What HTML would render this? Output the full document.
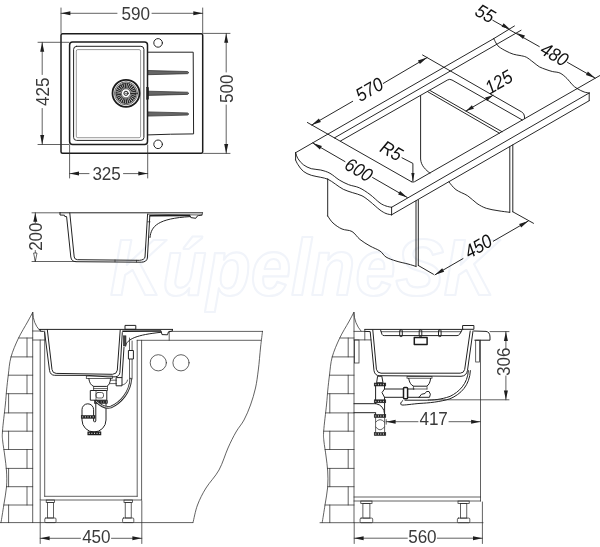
<!DOCTYPE html>
<html><head><meta charset="utf-8"><title>Sink drawing</title>
<style>
html,body{margin:0;padding:0;background:#fff;}
body{width:600px;height:547px;overflow:hidden;font-family:"Liberation Sans",sans-serif;}
svg{display:block}
.k{fill:none;stroke:#1c1c1c;stroke-width:1.5;stroke-linejoin:round}
.m{fill:none;stroke:#222;stroke-width:1.0;stroke-linejoin:round;stroke-linecap:round}
.t{fill:none;stroke:#2e2e2e;stroke-width:0.75;stroke-linecap:round}
.i{fill:none;stroke:#141414;stroke-width:0.92;stroke-linecap:round}
.t2{fill:none;stroke:#555;stroke-width:0.6}
.g{fill:#666;stroke:#2a2a2a;stroke-width:0.7}
.f{fill:#1e1e1e;stroke:#1e1e1e;stroke-width:0.5}
.f2{fill:#444;stroke:#222;stroke-width:0.5}
.a{fill:#1e1e1e;stroke:none}
.ao{fill:#fff;stroke:#2a2a2a;stroke-width:0.7}
.h{fill:none;stroke:#2a2a2a;stroke-width:2.6;stroke-linecap:round}
.hw{fill:none;stroke:#dcdcdc;stroke-width:1.0;stroke-linecap:round}
.tx{font-family:"Liberation Sans",sans-serif;fill:#3a3a3a;letter-spacing:-0.1px}
</style></head><body>
<svg width="600" height="547" viewBox="0 0 600 547">
<rect x="0" y="0" width="600" height="547" fill="#fff"/>
<g opacity="0.999">
<text transform="translate(110 295.5) scale(1 1.09)" x="0" y="0" font-size="72.4" font-weight="bold" font-style="italic" textLength="386" lengthAdjust="spacingAndGlyphs" fill="#fff" stroke="#f1f4fa" stroke-width="2" stroke-linejoin="round" font-family="Liberation Sans, sans-serif">KúpelneSK</text>
<rect x="61.0" y="33.8" width="141.7" height="119.4" rx="1.5" class="k" />
<rect x="69.6" y="42.1" width="77.9" height="102.4" rx="3" class="k" />
<rect x="73.6" y="46.3" width="70.3" height="94.1" rx="3" class="m" />
<rect x="76.3" y="49.6" width="64.3" height="88.1" rx="1.5" class="t2" />
<path d="M148,52.2 L193.2,52.2 L193.6,133.9 Q170,134 148.4,134.9" class="m" />
<path d="M148,70.5 L187.5,71.5 Q190,72.6 187.5,73.7 L148,74.7 Z" class="g" />
<path d="M148,91.2 L187.5,92.2 Q190,93.3 187.5,94.4 L148,95.4 Z" class="g" />
<path d="M148,111.9 L187.5,112.9 Q190,114.0 187.5,115.1 L148,116.1 Z" class="g" />
<rect x="146.6" y="87.6" width="2.0" height="11.6" rx="0" class="f" />
<circle cx="158.1" cy="42.9" r="4.3" class="m" />
<circle cx="158.1" cy="144.3" r="4.3" class="m" />
<circle cx="126.0" cy="93.3" r="13.5" class="k" style="stroke-width:1.8"/>
<circle cx="126.0" cy="93.3" r="11.5" class="t" />
<circle cx="126" cy="93.3" r="7.6" fill="none" stroke="#262626" stroke-width="5.2" stroke-dasharray="1.35 0.45"/>
<circle cx="126.0" cy="93.3" r="10.3" class="t" />
<circle cx="126.0" cy="93.3" r="4.6" class="t" />
<circle cx="126.0" cy="93.3" r="2.1" class="m" />
<line x1="124.8" y1="93.3" x2="127.2" y2="93.3" class="t"/>
<line x1="61.0" y1="8.0" x2="61.0" y2="33.0" class="t"/>
<line x1="202.7" y1="8.0" x2="202.7" y2="33.0" class="t"/>
<line x1="61.0" y1="13.3" x2="117.0" y2="13.3" class="t"/>
<line x1="152.0" y1="13.3" x2="202.7" y2="13.3" class="t"/>
<polygon points="61.0,13.3 70.4,11.3 70.4,15.3" class="a"/>
<polygon points="202.7,13.3 193.3,15.3 193.3,11.3" class="a"/>
<text transform="translate(135.7 13.8) rotate(0) scale(0.9 1)" font-size="19.0" text-anchor="middle" y="6.58" class="tx" >590</text>
<line x1="203.5" y1="33.4" x2="230.0" y2="33.4" class="t"/>
<line x1="203.5" y1="153.4" x2="230.0" y2="153.4" class="t"/>
<line x1="226.2" y1="33.4" x2="226.2" y2="72.0" class="t"/>
<line x1="226.2" y1="105.0" x2="226.2" y2="153.4" class="t"/>
<polygon points="226.2,33.4 228.2,42.8 224.2,42.8" class="a"/>
<polygon points="226.2,153.4 224.2,144.0 228.2,144.0" class="a"/>
<text transform="translate(226.2 88.8) rotate(-90) scale(0.9 1)" font-size="19.0" text-anchor="middle" y="6.58" class="tx" >500</text>
<line x1="38.0" y1="42.3" x2="69.0" y2="42.3" class="t"/>
<line x1="38.0" y1="144.5" x2="69.0" y2="144.5" class="t"/>
<line x1="42.2" y1="42.3" x2="42.2" y2="74.5" class="t"/>
<line x1="42.2" y1="108.5" x2="42.2" y2="144.5" class="t"/>
<polygon points="42.2,42.3 44.2,51.7 40.2,51.7" class="a"/>
<polygon points="42.2,144.5 40.2,135.1 44.2,135.1" class="a"/>
<text transform="translate(42.2 91.8) rotate(-90) scale(0.9 1)" font-size="19.0" text-anchor="middle" y="6.58" class="tx" >425</text>
<line x1="69.6" y1="145.0" x2="69.6" y2="178.0" class="t"/>
<line x1="147.7" y1="145.0" x2="147.7" y2="178.0" class="t"/>
<line x1="69.6" y1="173.6" x2="89.0" y2="173.6" class="t"/>
<line x1="123.5" y1="173.6" x2="147.7" y2="173.6" class="t"/>
<polygon points="69.6,173.6 79.0,171.6 79.0,175.6" class="a"/>
<polygon points="147.7,173.6 138.3,175.6 138.3,171.6" class="a"/>
<text transform="translate(106.5 173.4) rotate(0) scale(0.9 1)" font-size="19.0" text-anchor="middle" y="6.58" class="tx" >325</text>
<line x1="32.0" y1="212.8" x2="60.0" y2="212.8" class="t"/>
<line x1="32.0" y1="261.5" x2="76.0" y2="261.5" class="t"/>
<line x1="60.0" y1="212.8" x2="202.5" y2="212.8" class="m"/>
<path d="M60,212.8 L60,215 L64.5,215.2 L64.8,216.5 L66.6,216.6 L70.8,257 Q71.4,261.6 76,261.7 L141.5,262.2 Q146.8,262 147.4,258 L149.8,216" class="m" />
<path d="M69.8,213 L74.2,257 Q74.6,259.6 77.5,259.7 L139.5,260.3 Q144.4,260 145,257 L147.6,214" class="m" />
<path d="M148.3,214.2 L202,215 L202.5,212.8" class="t" />
<line x1="149.4" y1="215.8" x2="190.0" y2="215.6" class="k"/>
<path d="M190,215.6 L190.8,217.6 L195.8,218.3 L197,216.3 L198.4,215.6 L202,215" class="m" />
<path d="M150,237.5 C151,226 158,218.5 190,216.6" class="m" />
<line x1="147.6" y1="221.8" x2="150.0" y2="221.8" class="t"/>
<line x1="115.0" y1="260.0" x2="115.0" y2="261.8" class="t"/>
<line x1="136.5" y1="260.3" x2="136.5" y2="262.0" class="t"/>
<line x1="35.3" y1="212.8" x2="35.3" y2="223.0" class="t"/>
<line x1="35.3" y1="250.5" x2="35.3" y2="261.5" class="t"/>
<polygon points="35.3,212.8 37.3,221.8 33.3,221.8" class="a"/>
<polygon points="35.3,261.5 33.6,253.0 37.0,253.0" class="ao"/>
<text transform="translate(35.4 236.7) rotate(-90) scale(0.9 1)" font-size="19.0" text-anchor="middle" y="6.58" class="tx" >200</text>
<line x1="295.6" y1="152.7" x2="493.8" y2="38.6" class="i"/>
<line x1="295.6" y1="152.7" x2="295.6" y2="160.0" class="i"/>
<path d="M295.6,152.7 C296.0,153.7 296.7,156.7 298.0,158.7 C299.3,160.7 301.1,163.0 303.3,164.7 C305.5,166.4 308.4,167.8 311.3,168.7 C314.2,169.6 317.6,169.2 320.7,170.0 C323.8,170.8 326.9,171.6 330.0,173.3 C333.1,175.0 336.2,178.1 339.3,180.0 C342.4,181.9 345.4,183.4 348.7,184.7 C352.0,186.0 355.8,186.2 359.3,187.8 C362.9,189.4 366.6,192.0 370.0,194.5 C373.4,197.0 377.3,201.1 380.0,203.0 C382.7,204.9 384.1,205.3 386.0,206.0 C387.9,206.7 390.7,207.1 391.6,207.3" class="i" />
<path d="M295.6,160.0 C296.0,160.8 296.7,162.8 298.0,164.7 C299.3,166.6 301.1,169.5 303.3,171.3 C305.5,173.1 308.4,174.3 311.3,175.3 C314.2,176.3 317.9,176.6 320.7,177.3 C323.5,178.0 325.6,178.2 328.0,179.3 C330.4,180.4 332.8,182.3 335.3,184.0 C337.9,185.7 340.4,187.9 343.3,189.3 C346.2,190.8 349.6,191.6 352.7,192.7 C355.8,193.8 359.1,194.3 362.0,195.8 C364.9,197.3 367.0,199.1 370.0,201.5 C373.0,203.9 377.3,208.0 380.0,210.0 C382.7,212.0 384.1,212.7 386.0,213.5 C387.9,214.3 390.7,214.6 391.6,214.8" class="i" />
<line x1="391.6" y1="207.3" x2="391.6" y2="214.8" class="i"/>
<line x1="391.6" y1="207.3" x2="589.2" y2="93.0" class="i"/>
<line x1="391.6" y1="214.8" x2="589.2" y2="100.7" class="i"/>
<line x1="589.2" y1="93.0" x2="589.2" y2="100.7" class="i"/>
<path d="M577.2,88.6 L414.6,181.7 Q413,182.6 411.4,181.7" class="i" />
<path d="M493.8,38.6 C494.2,39.3 495.1,41.6 496.0,43.0 C496.9,44.4 497.3,45.5 499.0,46.8 C500.7,48.1 503.6,49.8 506.0,51.0 C508.4,52.2 511.0,53.5 513.3,54.2 C515.6,55.0 517.8,55.0 520.0,55.5 C522.2,56.0 524.1,56.1 526.3,57.2 C528.5,58.3 530.8,60.4 533.0,62.0 C535.2,63.6 537.1,65.5 539.3,66.8 C541.5,68.0 543.8,68.7 546.0,69.5 C548.2,70.3 549.9,70.9 552.3,71.5 C554.6,72.1 557.6,71.9 560.1,73.1 C562.6,74.3 565.1,76.7 567.1,78.6 C569.1,80.5 570.5,82.9 572.2,84.6 C573.9,86.3 575.2,87.4 577.2,88.6 C579.2,89.8 582.2,91.3 584.2,92.0 C586.2,92.7 588.4,92.8 589.2,93.0" class="i" />
<line x1="307.4" y1="122.5" x2="411.4" y2="181.7" class="i"/>
<line x1="334.4" y1="137.9" x2="521.0" y2="30.3" class="i"/>
<line x1="493.8" y1="38.6" x2="514.4" y2="26.0" class="i"/>
<path d="M422.6,55 L521.6,111.9 Q524.3,113.5 524.4,116 L524.6,118.6" class="i" />
<path d="M340.5,141 L447.5,80 Q449.7,78.7 452,80 L522.3,120" class="i" />
<line x1="430.0" y1="90.5" x2="502.0" y2="131.7" class="i"/>
<line x1="427.7" y1="91.7" x2="499.4" y2="133.2" class="i"/>
<path d="M420.6,95.8 L420.6,159 C421,166 426,170 430,173.2" class="i" />
<line x1="577.2" y1="88.6" x2="599.8" y2="75.6" class="i"/>
<path d="M327.7,178.8 L327.7,216" class="i" />
<path d="M327.7,216.0 C328.6,217.2 330.6,220.8 333.0,223.0 C335.4,225.2 338.8,227.6 342.0,229.0 C345.2,230.4 349.0,229.8 352.0,231.5 C355.0,233.2 357.0,237.1 360.0,239.5 C363.0,241.9 366.7,244.1 370.0,246.0 C373.3,247.9 377.3,249.2 380.0,251.0 C382.7,252.8 383.3,255.3 386.0,257.0 C388.7,258.7 392.3,259.8 396.0,261.0 C399.7,262.2 404.6,263.1 408.0,264.0 C411.4,264.9 414.8,266.1 416.2,266.5" class="i" />
<line x1="416.0" y1="201.0" x2="416.0" y2="266.0" class="i"/>
<line x1="418.3" y1="200.0" x2="418.3" y2="265.5" class="i"/>
<path d="M449.0,182.0 C450.2,183.3 452.9,187.4 456.0,189.7 C459.1,192.0 464.2,193.5 467.7,195.8 C471.2,198.1 473.9,201.4 477.0,203.5 C480.1,205.6 482.8,207.1 486.3,208.3 C489.8,209.5 494.1,210.0 498.0,210.7 C501.9,211.4 507.8,212.0 509.7,212.3" class="i" />
<line x1="509.8" y1="146.8" x2="509.8" y2="212.3" class="i"/>
<line x1="512.8" y1="145.0" x2="512.8" y2="211.8" class="i"/>
<line x1="311.7" y1="125.0" x2="352.7" y2="101.3" class="i"/>
<line x1="383.3" y1="83.4" x2="427.1" y2="57.6" class="i"/>
<polygon points="311.7,125.0 318.9,118.5 320.9,122.0" class="a"/>
<polygon points="427.1,57.6 419.9,64.1 417.9,60.6" class="a"/>
<text transform="translate(369.3 89.4) rotate(-30) scale(0.9 1)" font-size="19.0" text-anchor="middle" y="6.58" class="tx" style="font-style:italic;fill:#111">570</text>
<line x1="312.7" y1="142.9" x2="345.0" y2="161.6" class="i"/>
<line x1="372.6" y1="177.5" x2="407.3" y2="197.5" class="i"/>
<polygon points="312.7,142.9 321.9,145.9 319.9,149.4" class="a"/>
<polygon points="407.3,197.5 398.1,194.5 400.1,191.0" class="a"/>
<text transform="translate(358.8 169.7) rotate(30) scale(0.9 1)" font-size="19.0" text-anchor="middle" y="6.58" class="tx" style="font-style:italic;fill:#111">600</text>
<line x1="492.8" y1="20.3" x2="539.3" y2="46.6" class="i"/>
<line x1="567.5" y1="62.4" x2="595.1" y2="78.1" class="i"/>
<polygon points="510.0,29.2 501.6,26.7 503.6,23.2" class="a"/>
<polygon points="516.6,33.0 525.0,35.5 523.0,39.0" class="a"/>
<polygon points="595.1,78.1 585.9,75.1 587.9,71.6" class="a"/>
<text transform="translate(485.2 13.4) rotate(30) scale(0.9 1)" font-size="19.0" text-anchor="middle" y="6.58" class="tx" style="font-style:italic;fill:#111">55</text>
<text transform="translate(554.5 54.3) rotate(30) scale(0.9 1)" font-size="19.0" text-anchor="middle" y="6.58" class="tx" style="font-style:italic;fill:#111">480</text>
<line x1="466.0" y1="111.0" x2="493.0" y2="95.3" class="i"/>
<polygon points="466.0,111.0 471.9,105.3 473.9,108.7" class="a"/>
<polygon points="493.0,95.3 487.1,101.0 485.1,97.6" class="a"/>
<text transform="translate(498.6 82.0) rotate(-30) scale(0.9 1)" font-size="19.0" text-anchor="middle" y="6.58" class="tx" style="font-style:italic;fill:#111">125</text>
<path d="M402,157.8 L412.9,163.4 L412.9,181" class="i" />
<polygon points="412.9,181.6 411.3,173.1 414.5,173.1" class="a"/>
<text transform="translate(391.5 150.7) rotate(30) scale(0.9 1)" font-size="19.0" text-anchor="middle" y="6.58" class="tx" style="font-style:italic;fill:#111">R5</text>
<line x1="512.8" y1="211.8" x2="533.5" y2="223.3" class="i"/>
<line x1="418.3" y1="265.5" x2="433.5" y2="274.3" class="i"/>
<line x1="435.0" y1="274.8" x2="463.0" y2="258.6" class="i"/>
<line x1="493.3" y1="241.2" x2="528.3" y2="221.0" class="i"/>
<polygon points="435.0,274.8 442.2,268.3 444.2,271.8" class="a"/>
<polygon points="528.3,221.0 521.1,227.5 519.1,224.0" class="a"/>
<text transform="translate(478.2 246.2) rotate(-30) scale(0.9 1)" font-size="19.0" text-anchor="middle" y="6.58" class="tx" style="font-style:italic;fill:#111">450</text>
<path d="M32.7,312.5 C31.8,314.1 29.9,317.7 27.5,322.0 C25.1,326.3 21.1,332.7 18.3,338.5 C15.6,344.3 12.7,350.9 11.0,357.0 C9.3,363.1 9.0,369.5 8.3,375.0 C7.6,380.5 7.1,385.0 6.6,390.0 C6.1,395.0 6.0,398.2 5.3,405.0 C4.6,411.8 2.9,425.0 2.5,431.0 C2.1,437.0 2.3,436.8 2.7,441.0 C3.1,445.2 4.2,451.0 4.8,456.0 C5.4,461.0 6.2,465.8 6.5,471.0 C6.8,476.2 7.0,481.3 6.5,487.0 C6.0,492.7 4.7,499.1 3.8,505.0 C2.9,510.9 1.5,519.7 1.0,522.6" class="t" />
<line x1="32.7" y1="312.5" x2="32.7" y2="522.6" class="t"/>
<line x1="18.6" y1="338.0" x2="32.7" y2="338.0" class="t"/>
<line x1="11.0" y1="356.9" x2="32.7" y2="356.9" class="t"/>
<line x1="8.3" y1="375.2" x2="32.7" y2="375.2" class="t"/>
<line x1="6.3" y1="393.7" x2="32.7" y2="393.7" class="t"/>
<line x1="4.4" y1="412.9" x2="32.7" y2="412.9" class="t"/>
<line x1="2.5" y1="431.2" x2="32.7" y2="431.2" class="t"/>
<line x1="3.9" y1="449.5" x2="32.7" y2="449.5" class="t"/>
<line x1="6.2" y1="468.4" x2="32.7" y2="468.4" class="t"/>
<line x1="6.5" y1="486.7" x2="32.7" y2="486.7" class="t"/>
<line x1="3.8" y1="505.0" x2="32.7" y2="505.0" class="t"/>
<line x1="27.0" y1="338.0" x2="27.0" y2="356.9" class="t"/>
<line x1="27.0" y1="375.2" x2="27.0" y2="393.7" class="t"/>
<line x1="8.6" y1="393.7" x2="8.6" y2="412.9" class="t"/>
<line x1="27.0" y1="412.9" x2="27.0" y2="431.2" class="t"/>
<line x1="8.6" y1="431.2" x2="8.6" y2="449.5" class="t"/>
<line x1="27.0" y1="449.5" x2="27.0" y2="468.4" class="t"/>
<line x1="8.6" y1="468.4" x2="8.6" y2="486.7" class="t"/>
<line x1="27.0" y1="486.7" x2="27.0" y2="505.0" class="t"/>
<line x1="8.6" y1="505.0" x2="8.6" y2="522.6" class="t"/>
<path d="M32.7,312.5 Q33.2,323.5 39.4,330" class="t" />
<line x1="0.0" y1="522.6" x2="192.7" y2="522.6" class="t"/>
<path d="M32.7,331 L40,331 M32.7,340 L44.6,340" class="t" />
<line x1="39.4" y1="329.4" x2="172.5" y2="329.4" class="m"/>
<line x1="40.2" y1="340.0" x2="40.2" y2="500.0" class="t"/>
<line x1="44.7" y1="331.0" x2="44.7" y2="496.3" class="t"/>
<line x1="44.7" y1="496.3" x2="137.2" y2="496.3" class="t"/>
<line x1="40.2" y1="500.0" x2="141.6" y2="500.0" class="t"/>
<line x1="137.2" y1="340.3" x2="137.2" y2="496.3" class="t"/>
<line x1="141.6" y1="340.3" x2="141.6" y2="500.0" class="t"/>
<line x1="169.2" y1="331.4" x2="262.5" y2="331.4" class="t"/>
<line x1="137.2" y1="340.3" x2="260.8" y2="340.3" class="t"/>
<line x1="169.2" y1="331.4" x2="169.2" y2="340.3" class="t"/>
<path d="M262.5,331.3 C262.2,333.9 261.3,340.6 260.6,347.0 C259.9,353.4 259.2,363.2 258.3,370.0 C257.4,376.8 256.8,382.2 255.5,388.0 C254.2,393.8 252.4,399.7 250.5,405.0 C248.6,410.3 246.4,415.5 244.0,420.0 C241.6,424.5 238.7,427.3 236.0,432.0 C233.3,436.7 230.8,441.7 228.0,448.0 C225.2,454.3 222.7,463.3 219.0,470.0 C215.3,476.7 209.6,482.2 206.0,488.0 C202.4,493.8 199.7,499.2 197.5,505.0 C195.3,510.8 193.8,519.7 193.0,522.6" class="t" />
<circle cx="158.3" cy="362.8" r="8.1" class="t" />
<circle cx="181.0" cy="362.8" r="8.1" class="t" />
<rect x="46.2" y="500.0" width="8.4" height="2.4" rx="0" class="t" />
<rect x="47.4" y="502.4" width="6.0" height="15.6" rx="0" class="t" />
<rect x="44.8" y="518.0" width="11.2" height="4.6" rx="1" class="t" />
<rect x="124.0" y="500.0" width="8.4" height="2.4" rx="0" class="t" />
<rect x="125.2" y="502.4" width="6.0" height="15.6" rx="0" class="t" />
<rect x="122.6" y="518.0" width="11.2" height="4.6" rx="1" class="t" />
<path d="M40.2,329.4 L40.2,331.2 L43.6,331.4 L44.6,332.2 L49.5,370.4 Q50.4,375.2 54.6,375.3 L88,375.4 L108,376.9 L115.2,376.8 Q119.4,376.6 119.9,372.4 L122.3,332.6" class="m" />
<path d="M47.3,329.6 L52,369.6 Q52.6,373.3 56.2,373.4 L112.5,374.3 Q116.8,374.1 117.3,370.2 L120.2,330" class="m" />
<rect x="86.3" y="376.0" width="26.3" height="2.4" rx="0" class="t" />
<path d="M88.8,378.5 Q89.6,385 93.8,386.4 L106.8,386.4 Q110,385 110.6,378.5" class="m" />
<line x1="93.6" y1="388.6" x2="107.5" y2="388.6" class="t"/>
<line x1="93.6" y1="386.4" x2="93.6" y2="390.5" class="t"/>
<line x1="107.5" y1="386.4" x2="107.5" y2="390.5" class="t"/>
<rect x="90.7" y="390.5" width="16.1" height="9.7" rx="0" class="m" />
<line x1="96.0" y1="390.5" x2="96.0" y2="400.2" class="t"/>
<rect x="96.0" y="392.5" width="7.5" height="5.5" rx="2" class="t" />
<rect x="94.4" y="400.6" width="13.1" height="2.8" rx="0" class="f" />
<line x1="95.5" y1="402" x2="107" y2="402" stroke="#ddd" stroke-width="1.2" stroke-dasharray="0.9 1.7"/>
<path d="M106,403.4 L106,420 A12,12 0 0 1 82,420 L82,409.6 A5.8,5.8 0 0 1 93.6,409.6 L93.6,421 Q94.7,423.4 95.8,421 L95.8,403.4" class="m" />
<rect x="81.2" y="415.5" width="13.8" height="2.8" rx="0" class="f" />
<rect x="87.8" y="431.8" width="13.2" height="3.2" rx="0" class="f" />
<line x1="82.3" y1="416.9" x2="94.5" y2="416.9" stroke="#ddd" stroke-width="1.2" stroke-dasharray="0.9 1.7"/>
<line x1="88.8" y1="433.4" x2="100.5" y2="433.4" stroke="#ddd" stroke-width="1.3" stroke-dasharray="0.9 1.7"/>
<rect x="116.5" y="377.6" width="5.5" height="8.2" rx="0" class="m" />
<line x1="110.4" y1="380.2" x2="116.5" y2="380.2" class="t"/>
<line x1="109.6" y1="383.6" x2="116.5" y2="383.6" class="t"/>
<line x1="124.0" y1="347.4" x2="122.0" y2="377.6" class="m"/>
<path d="M122,385 Q126.5,384.5 127.6,380" class="t" />
<rect x="125.4" y="325.4" width="10.4" height="3.9" rx="0" class="m" />
<line x1="129.5" y1="338.0" x2="129.5" y2="379.0" class="t"/>
<line x1="132.1" y1="341.0" x2="132.1" y2="379.0" class="t"/>
<rect x="128.8" y="350.5" width="4.6" height="8.5" rx="0" class="m" style="fill:#fff"/>
<path d="M130.8,379 C130,392 121,402.5 111,407 C106,408.4 100.5,405.5 96.5,401.5" class="h" />
<path d="M130.8,379 C130,392 121,402.5 111,407 C106,408.4 100.5,405.5 96.5,401.5" class="hw" />
<line x1="122.3" y1="331.2" x2="161.0" y2="331.0" class="k"/>
<path d="M161,331 L162,334.6 L167.5,334.8 L168.4,332 L172.5,330.8 L172.5,329.4" class="m" />
<path d="M125.4,346 C127,338.8 137,334.8 161,332.3" class="m" />
<rect x="123.3" y="335.8" width="2.7" height="10.2" rx="0" class="f2" />
<line x1="40.2" y1="501.0" x2="40.2" y2="543.5" class="t"/>
<line x1="141.8" y1="501.0" x2="141.8" y2="543.5" class="t"/>
<line x1="40.2" y1="538.3" x2="80.5" y2="538.3" class="t"/>
<line x1="111.5" y1="538.3" x2="141.8" y2="538.3" class="t"/>
<polygon points="40.2,538.3 49.6,536.3 49.6,540.3" class="a"/>
<polygon points="141.8,538.3 132.4,540.3 132.4,536.3" class="a"/>
<text transform="translate(96.3 536.0) rotate(0) scale(0.9 1)" font-size="19.0" text-anchor="middle" y="6.58" class="tx" >450</text>
<path d="M353.8,312.5 C352.9,314.1 351.1,317.7 348.7,322.0 C346.3,326.3 342.2,332.7 339.5,338.5 C336.8,344.3 333.9,350.9 332.2,357.0 C330.5,363.1 330.2,369.5 329.5,375.0 C328.8,380.5 328.3,385.0 327.8,390.0 C327.3,395.0 327.2,398.2 326.5,405.0 C325.8,411.8 324.1,425.0 323.7,431.0 C323.3,437.0 323.5,436.8 323.9,441.0 C324.3,445.2 325.4,451.0 326.0,456.0 C326.6,461.0 327.4,465.8 327.7,471.0 C328.0,476.2 328.1,481.3 327.7,487.0 C327.2,492.7 325.9,499.1 325.0,505.0 C324.1,510.9 322.7,519.7 322.2,522.6" class="t" />
<line x1="354.0" y1="312.5" x2="354.0" y2="522.6" class="t"/>
<line x1="339.8" y1="338.0" x2="354.0" y2="338.0" class="t"/>
<line x1="332.2" y1="356.9" x2="354.0" y2="356.9" class="t"/>
<line x1="329.5" y1="375.2" x2="354.0" y2="375.2" class="t"/>
<line x1="327.5" y1="393.7" x2="354.0" y2="393.7" class="t"/>
<line x1="325.6" y1="412.9" x2="354.0" y2="412.9" class="t"/>
<line x1="323.7" y1="431.2" x2="354.0" y2="431.2" class="t"/>
<line x1="325.1" y1="449.5" x2="354.0" y2="449.5" class="t"/>
<line x1="327.4" y1="468.4" x2="354.0" y2="468.4" class="t"/>
<line x1="327.7" y1="486.7" x2="354.0" y2="486.7" class="t"/>
<line x1="325.0" y1="505.0" x2="354.0" y2="505.0" class="t"/>
<line x1="348.2" y1="338.0" x2="348.2" y2="356.9" class="t"/>
<line x1="348.2" y1="375.2" x2="348.2" y2="393.7" class="t"/>
<line x1="329.8" y1="393.7" x2="329.8" y2="412.9" class="t"/>
<line x1="348.2" y1="412.9" x2="348.2" y2="431.2" class="t"/>
<line x1="329.8" y1="431.2" x2="329.8" y2="449.5" class="t"/>
<line x1="348.2" y1="449.5" x2="348.2" y2="468.4" class="t"/>
<line x1="329.8" y1="468.4" x2="329.8" y2="486.7" class="t"/>
<line x1="348.2" y1="486.7" x2="348.2" y2="505.0" class="t"/>
<line x1="329.8" y1="505.0" x2="329.8" y2="522.6" class="t"/>
<path d="M353.8,312.5 Q354.4,323.5 361,331" class="t" />
<line x1="320.0" y1="522.7" x2="483.0" y2="522.7" class="t"/>
<path d="M354,331.4 L364.8,331.4 M354,339.9 L371,339.9 M364.8,329.4 L364.8,339.9" class="t" />
<rect x="354.6" y="340.0" width="4.4" height="23.0" rx="0" class="t" />
<line x1="354.0" y1="497.0" x2="480.5" y2="497.0" class="t"/>
<line x1="354.0" y1="501.0" x2="480.5" y2="501.0" class="t"/>
<line x1="480.5" y1="340.2" x2="480.5" y2="501.0" class="t"/>
<rect x="360.8" y="501.0" width="11.2" height="2.4" rx="0" class="t" />
<rect x="362.9" y="503.4" width="7.0" height="14.7" rx="0" class="t" />
<rect x="360.1" y="518.1" width="12.6" height="4.6" rx="1" class="t" />
<rect x="458.0" y="501.0" width="11.2" height="2.4" rx="0" class="t" />
<rect x="460.4" y="503.4" width="6.4" height="14.7" rx="0" class="t" />
<rect x="457.4" y="518.1" width="12.4" height="4.6" rx="1" class="t" />
<line x1="364.8" y1="329.4" x2="463.0" y2="329.4" class="m"/>
<rect x="463.0" y="325.5" width="10.9" height="3.8" rx="0" class="m" />
<path d="M364.8,331.4 L370.2,331.6 L374,370.8 Q375,375.6 379.2,375.7 L461,376.3 Q466.6,376 467.5,370.3 L473,331" class="m" />
<path d="M372.8,330 L376.4,369.2 Q377.2,373 381,373.2 L460.2,373.2 Q464,373 464.7,369.4 L470.2,331" class="m" />
<path d="M380.6,330 L382,334.4 Q382.5,335.6 384.2,335.6 L457,335.6 Q459,335.4 459.8,334 L462,330" class="m" />
<line x1="381.0" y1="331.7" x2="461.4" y2="331.7" class="t"/>
<rect x="399.7" y="329.8" width="2.6" height="6.8" rx="1" class="m" />
<rect x="419.2" y="329.8" width="2.6" height="6.8" rx="1" class="m" />
<rect x="438.5" y="329.8" width="2.6" height="6.8" rx="1" class="m" />
<rect x="414.3" y="337.6" width="12.8" height="6.9" rx="0" class="k" />
<path d="M473.9,331 L486,331.4 Q490,332 490,337 L490,340.2 L474.8,340.2" class="m" />
<rect x="475.7" y="340.2" width="3.7" height="21.8" rx="0" class="t" />
<rect x="407.0" y="376.5" width="25.0" height="1.7" rx="0" class="t" />
<path d="M408.7,378.4 Q409.6,384.6 413.6,386.2 L426.6,386.2 Q430,384.6 430.6,378.4" class="m" />
<line x1="413.4" y1="386.2" x2="413.4" y2="389.0" class="t"/>
<line x1="427.0" y1="386.2" x2="427.0" y2="389.0" class="t"/>
<line x1="413.4" y1="389.0" x2="427.0" y2="389.0" class="t"/>
<path d="M384.5,389 L403.5,389 M407.6,389 L414,389 M384.5,397.3 L403.5,397.3 M407.6,397.3 L419,397.3" class="m" />
<rect x="403.5" y="387.4" width="4.1" height="11.4" rx="1" class="k" />
<path d="M419,397.3 Q421,393 425,393.5 Q426,390.5 429,391.5 Q431.5,394 429.5,397.3 L419,397.3" class="m" />
<path d="M378,376.2 L381.8,376.2 L383,382.8 L377,382.8 Z" class="m" />
<rect x="374.2" y="383.0" width="11.6" height="3.0" rx="0" class="f" />
<line x1="375.4" y1="384.5" x2="385" y2="384.5" stroke="#ddd" stroke-width="1.3" stroke-dasharray="0.9 1.6"/>
<rect x="374.2" y="399.8" width="11.6" height="3.0" rx="0" class="f" />
<line x1="375.4" y1="401.3" x2="385" y2="401.3" stroke="#ddd" stroke-width="1.3" stroke-dasharray="0.9 1.6"/>
<rect x="374.2" y="414.5" width="11.6" height="3.0" rx="0" class="f" />
<line x1="375.4" y1="416.0" x2="385" y2="416.0" stroke="#ddd" stroke-width="1.3" stroke-dasharray="0.9 1.6"/>
<rect x="374.2" y="432.5" width="11.6" height="3.0" rx="0" class="f" />
<line x1="375.4" y1="434.0" x2="385" y2="434.0" stroke="#ddd" stroke-width="1.3" stroke-dasharray="0.9 1.6"/>
<path d="M375.6,386 L375.6,399.8 M384.5,386 L384.5,389 L382,392.6 L384.5,397.3 L384.5,399.8" class="m" />
<path d="M354,403.7 L376,403.7 Q384,405.2 384.7,414.5 M354,412.7 L375,412.7 M375.6,402.8 L375.6,403.7 M375.6,412.7 L375.6,414.5 M384.6,402.8 L384.6,414.5" class="m" />
<path d="M375.6,417.5 L375.6,432.5 M384.6,417.5 L384.6,432.5 M375.8,427 Q380,433 384.4,427 M375.8,422 Q380,417 384.4,422" class="t" />
<path d="M468.4,370.6 C467.6,384 459,392 450,396.4 C441,399.6 432,400.2 427.5,400.2 L405,400.2" class="m" />
<path d="M470.4,370.6 C469.6,385.5 461,394 450,398.8 C440,402 428,403 420,403.4 C412,404 405,405.3 401.5,405 Q399.3,403.3 402.8,400.6" class="m" />
<line x1="386.2" y1="419.6" x2="386.2" y2="424.2" class="t"/>
<line x1="386.2" y1="421.7" x2="418.0" y2="421.7" class="t"/>
<line x1="449.0" y1="421.7" x2="480.5" y2="421.7" class="t"/>
<polygon points="386.2,421.7 395.6,419.7 395.6,423.7" class="a"/>
<polygon points="480.5,421.7 471.1,423.7 471.1,419.7" class="a"/>
<text transform="translate(433.6 418.6) rotate(0) scale(0.9 1)" font-size="19.0" text-anchor="middle" y="6.58" class="tx" >417</text>
<line x1="490.0" y1="331.6" x2="509.0" y2="331.6" class="t"/>
<line x1="428.0" y1="399.8" x2="509.0" y2="399.8" class="t"/>
<line x1="505.9" y1="331.6" x2="505.9" y2="349.5" class="t"/>
<line x1="505.9" y1="376.0" x2="505.9" y2="399.8" class="t"/>
<polygon points="505.9,331.6 507.9,341.0 503.9,341.0" class="a"/>
<polygon points="505.9,399.8 503.9,390.4 507.9,390.4" class="a"/>
<text transform="translate(503.0 361.8) rotate(-90) scale(0.9 1)" font-size="19.0" text-anchor="middle" y="6.58" class="tx" >306</text>
<line x1="354.2" y1="523.0" x2="354.2" y2="543.5" class="t"/>
<line x1="482.4" y1="502.0" x2="482.4" y2="543.5" class="t"/>
<line x1="354.2" y1="538.2" x2="407.3" y2="538.2" class="t"/>
<line x1="437.3" y1="538.2" x2="482.4" y2="538.2" class="t"/>
<polygon points="354.2,538.2 363.6,536.2 363.6,540.2" class="a"/>
<polygon points="482.4,538.2 473.0,540.2 473.0,536.2" class="a"/>
<text transform="translate(422.4 536.2) rotate(0) scale(0.9 1)" font-size="19.0" text-anchor="middle" y="6.58" class="tx" >560</text>
</g>
</svg>
</body></html>
